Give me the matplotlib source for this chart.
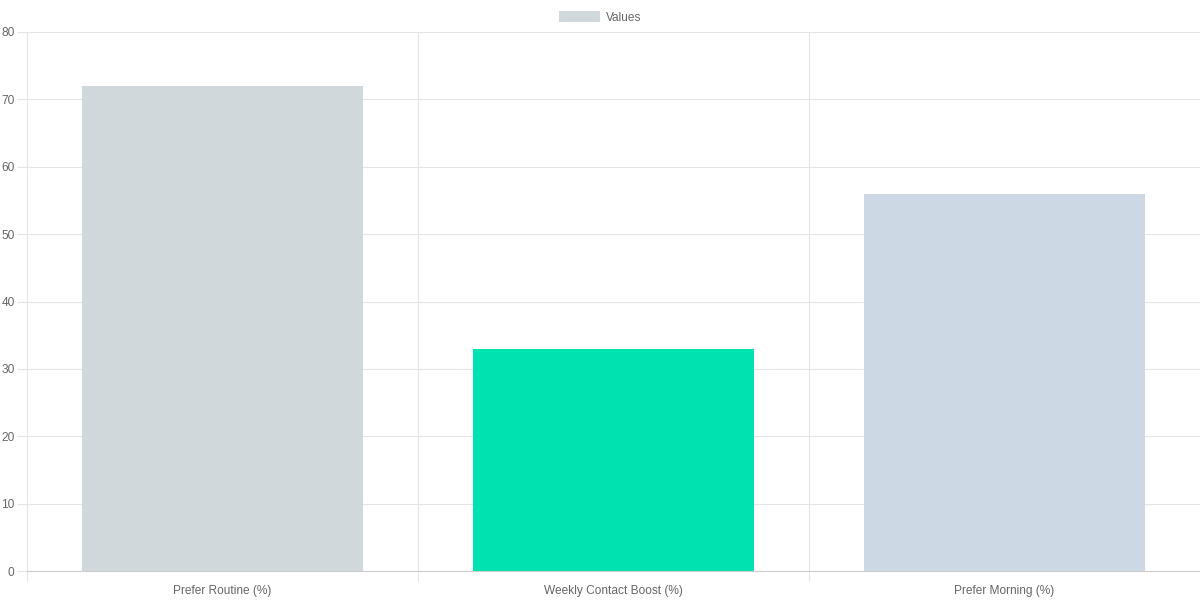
import matplotlib.pyplot as plt
from matplotlib.patches import Patch
from matplotlib.ticker import MultipleLocator, FixedLocator

# data
categories = ['Prefer Routine (%)', 'Weekly Contact Boost (%)', 'Prefer Morning (%)']
values = [72, 33, 56]
bar_colors = ['#d0d8db', '#00e3b1', '#cdd8e5']

plt.rcParams['font.family'] = ['Liberation Sans', 'DejaVu Sans']
TXT = '#666666'
GRID = '#e5e5e5'
AXIS = '#cccccc'
FS = 8.6

fig = plt.figure(figsize=(12, 6), dpi=100)
ax = fig.add_axes([27 / 1200, 29 / 600, 1173 / 1200, 539 / 600])

x = list(range(len(categories)))
ax.bar(x, values, width=0.72, color=bar_colors, zorder=2)

ax.set_xlim(-0.5, 2.5)
ax.set_ylim(0, 80)

# y axis: ticks every 10, grid lines across
ax.yaxis.set_major_locator(MultipleLocator(10))
ax.grid(axis='y', color=GRID, linewidth=0.8, zorder=0)
ax.tick_params(axis='y', length=7, width=0.8, color=GRID, labelcolor=TXT, labelsize=FS, pad=2)

# x axis: category labels centred, grid lines at category boundaries
ax.set_xticks(x)
ax.set_xticklabels(categories)
ax.tick_params(axis='x', which='major', length=0, labelcolor=TXT, labelsize=FS, pad=10)
ax.xaxis.set_minor_locator(FixedLocator([-0.5, 0.5, 1.5]))
ax.tick_params(axis='x', which='minor', length=7, width=0.8, color=GRID)
for b in [0.5, 1.5]:
    ax.axvline(b, color=GRID, linewidth=0.8, zorder=0)

for side in ['top', 'right']:
    ax.spines[side].set_visible(False)
ax.spines['left'].set_color(GRID)
ax.spines['left'].set_linewidth(0.8)
ax.spines['bottom'].set_color(AXIS)
ax.spines['bottom'].set_linewidth(0.8)

fig.legend(handles=[Patch(facecolor=bar_colors[0], edgecolor='none', label='Values')],
           loc='upper center', bbox_to_anchor=(0.5, 0.999), frameon=False,
           fontsize=FS, labelcolor=TXT, handlelength=3.4, handleheight=1.05,
           handletextpad=0.5)

fig.savefig('out.png', dpi=100)
